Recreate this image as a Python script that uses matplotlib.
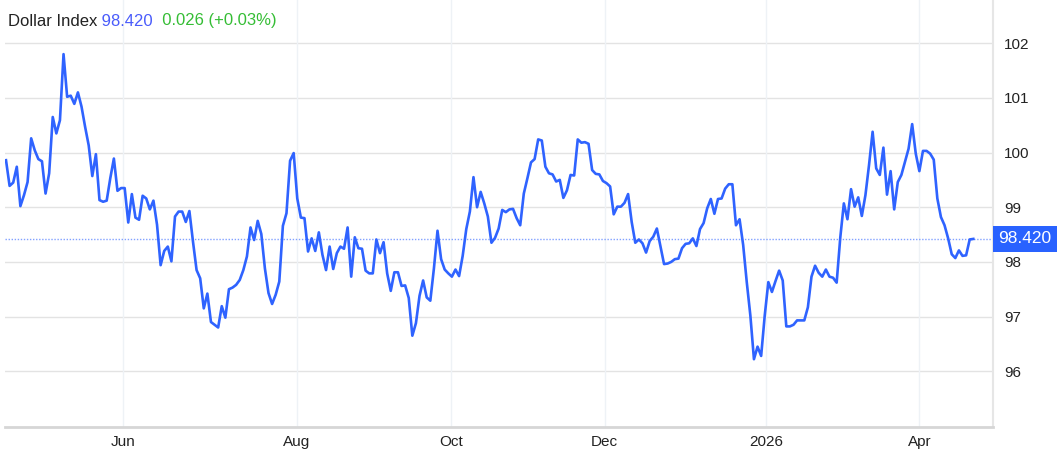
import matplotlib
matplotlib.use("Agg")
import matplotlib.pyplot as plt
from matplotlib.patches import Rectangle
import numpy as np

# ---- data ----
values = [
    99.86, 99.39, 99.45, 99.74, 99.02, 99.22, 99.46, 100.26, 100.04, 99.88,
    99.84, 99.25, 99.62, 100.65, 100.35, 100.59, 101.80, 101.02, 101.04, 100.89,
    101.10, 100.84, 100.47, 100.13, 99.57, 99.97, 99.13, 99.10, 99.12, 99.53,
    99.89, 99.30, 99.35, 99.35, 98.72, 99.24, 98.81, 98.77, 99.21, 99.16,
    98.96, 99.12, 98.68, 97.94, 98.20, 98.28, 98.01, 98.83, 98.92, 98.92,
    98.73, 98.93, 98.37, 97.85, 97.70, 97.15, 97.42, 96.90, 96.85, 96.80,
    97.19, 96.98, 97.50, 97.53, 97.58, 97.67, 97.85, 98.10, 98.63, 98.40,
    98.75, 98.51, 97.88, 97.43, 97.23, 97.40, 97.64, 98.66, 98.89, 99.85,
    99.99, 99.16, 98.81, 98.80, 98.19, 98.43, 98.20, 98.54, 98.13, 97.85,
    98.28, 97.87, 98.16, 98.28, 98.24, 98.63, 97.73, 98.45, 98.25, 98.24,
    97.84, 97.79, 97.79, 98.41, 98.16, 98.36, 97.79, 97.47, 97.81, 97.81,
    97.56, 97.57, 97.34, 96.65, 96.88, 97.38, 97.66, 97.35, 97.29, 97.88,
    98.57, 98.05, 97.86, 97.79, 97.73, 97.86, 97.74, 98.11, 98.60, 98.92,
    99.55, 99.00, 99.28, 99.07, 98.83, 98.35, 98.44, 98.61, 98.95, 98.91,
    98.96, 98.97, 98.80, 98.67, 99.25, 99.53, 99.82, 99.88, 100.24, 100.22,
    99.74, 99.62, 99.60, 99.47, 99.50, 99.17, 99.31, 99.59, 99.58, 100.24,
    100.18, 100.19, 100.16, 99.68, 99.61, 99.60, 99.48, 99.44, 99.38, 98.87,
    99.01, 99.01, 99.08, 99.24, 98.73, 98.35, 98.41, 98.34, 98.17, 98.38,
    98.46, 98.61, 98.28, 97.96, 97.97, 98.00, 98.05, 98.06, 98.25, 98.33,
    98.34, 98.43, 98.29, 98.60, 98.71, 98.98, 99.15, 98.88, 99.15, 99.16,
    99.34, 99.42, 99.42, 98.67, 98.78, 98.31, 97.63, 97.02, 96.22, 96.45,
    96.28, 97.02, 97.63, 97.45, 97.65, 97.84, 97.66, 96.82, 96.82, 96.85,
    96.93, 96.93, 96.93, 97.17, 97.73, 97.93, 97.80, 97.73, 97.86, 97.73,
    97.71, 97.62, 98.44, 99.07, 98.78, 99.33, 99.01, 99.18, 98.84, 99.22,
    99.77, 100.38, 99.71, 99.59, 100.09, 99.23, 99.66, 98.96, 99.46, 99.59,
    99.83, 100.07, 100.52, 99.98, 99.66, 100.03, 100.03, 99.98, 99.87, 99.16,
    98.82, 98.67, 98.43, 98.14, 98.07, 98.21, 98.11, 98.12, 98.41, 98.42,
]
tick_labels = ["Jun", "Aug", "Oct", "Dec", "2026", "Apr"]
tick_index = [32.6, 80.8, 123.7, 166.5, 211.3, 254.0]
y_ticks = [96, 97, 98, 99, 100, 101, 102]
last_value = 98.420
change = 0.026
change_pct = 0.03
title = "Dollar Index"

# ---- style ----
LINE = "#2f63ff"
W, H = 1057, 453
plt.rcParams["font.family"] = ["Liberation Sans", "DejaVu Sans"]
fig = plt.figure(figsize=(W / 100, H / 100), dpi=100)

ax = fig.add_axes([5 / W, (H - 427) / H, 988 / W, 427 / H])
x = np.arange(len(values))
n = len(values)
span = (n - 1) * 988 / (973.3 - 6)
left = -(6 - 5) / 988 * span
ax.set_xlim(left, left + span)
ax.set_ylim(94.98, 102.79)

ax.plot(x, values, color=LINE, lw=1.9, solid_joinstyle="round", zorder=3)
ax.axhline(last_value, color=LINE, lw=1.0, ls=(0, (1, 1.2)), alpha=0.6, zorder=2)

# grids
for yv in y_ticks:
    ax.axhline(yv, color="#e3e3e3", lw=1.0, zorder=1)
for xv in tick_index:
    ax.axvline(xv, color="#eef2f6", lw=1.0, zorder=1)

for s in ["top", "left"]:
    ax.spines[s].set_visible(False)
ax.spines["bottom"].set_color("#d6d6d6")
ax.spines["bottom"].set_linewidth(2.0)
ax.spines["right"].set_color("#e6e6e6")
ax.spines["right"].set_linewidth(1.5)

ax.set_xticks(tick_index)
ax.set_xticklabels(tick_labels)
ax.tick_params(axis="x", length=0, pad=6, labelsize=11, labelcolor="#222222")
ax.yaxis.tick_right()
ax.set_yticks(y_ticks)
ax.set_yticklabels([str(v) for v in y_ticks])
ax.tick_params(axis="y", length=0, pad=8, labelsize=11, labelcolor="#222222")

# last-price badge
trans = ax.get_yaxis_transform()
badge_h = 26 / 427 * (102.79 - 94.98)
ax.add_patch(Rectangle((1.0, last_value - badge_h / 2), 64 / 988, badge_h,
                       transform=trans, fc="#2962ff", ec="none", clip_on=False, zorder=5))
ax.text(1.0 + 32 / 988, last_value, f"{last_value:.3f}", transform=trans,
        ha="center", va="center", color="white", fontsize=12.5, zorder=6, clip_on=False)

# title
t1 = fig.text(8 / W, 1 - 21 / H, title, fontsize=12, color="#222222", va="center", ha="left")
t2 = ax.annotate(f" {last_value:.3f}", xy=(1, 0.5), xycoords=t1, xytext=(0, 0),
                 textcoords="offset points", va="center", ha="left",
                 fontsize=12, color="#4a5cfb")
t3 = ax.annotate(f"  {change:.3f} (+{change_pct:.2f}%)", xy=(1, 0.5), xycoords=t2,
                 va="center", ha="left", fontsize=12, color="#35bd35")

fig.savefig("out.png", dpi=100)
